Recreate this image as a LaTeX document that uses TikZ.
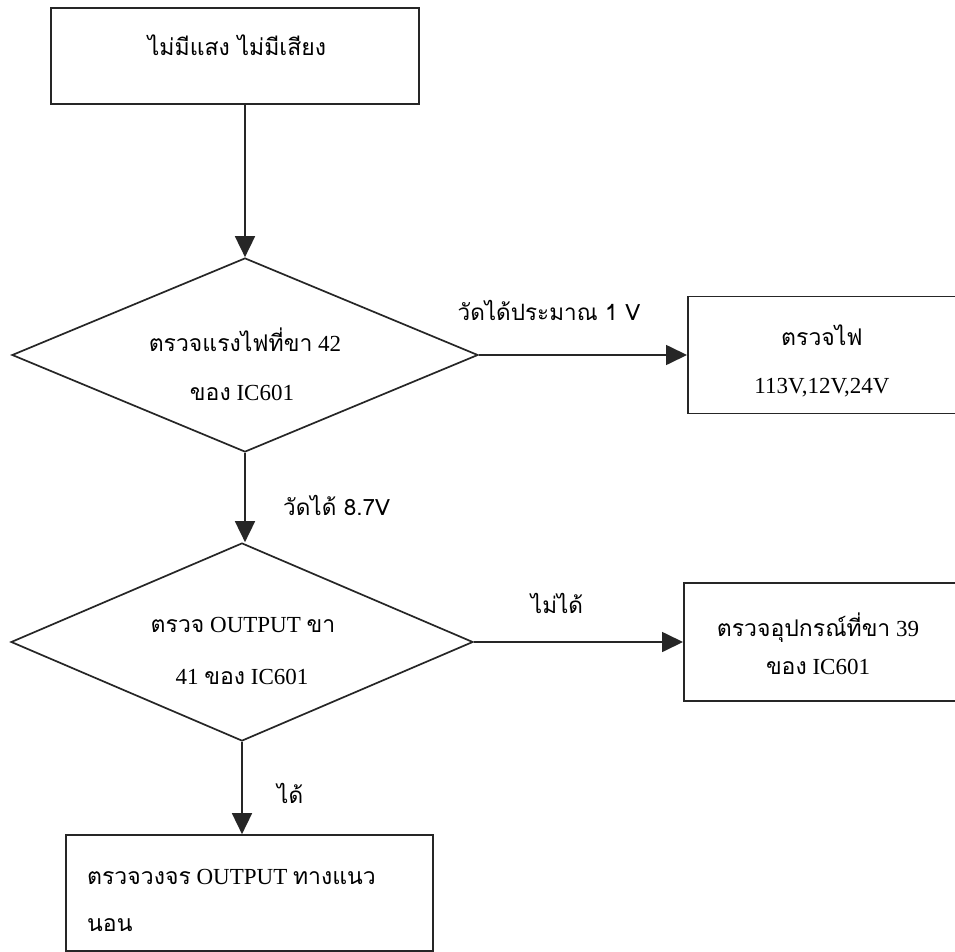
\documentclass[tikz,border=0pt]{standalone}
\usepackage{fontspec}
\setmainfont{Liberation Serif}
\newfontfamily\thaifont[Script=Thai]{Loma}
\newfontfamily\labelfont[Script=Thai]{Loma}
\usetikzlibrary{arrows.meta,shapes.geometric}
\newcommand\thw[1]{{\thaifont #1}}
\begin{document}
\begin{tikzpicture}[x=1pt,y=-1pt,
  line/.style={draw=black!85,line width=1.7pt},
  boxshape/.style={line,rectangle,inner sep=0pt},
  decision/.style={line,diamond,inner sep=0pt},
  flow/.style={line,-{Triangle[length=21pt,width=20pt]}},
  txt/.style={font=\fontsize{23}{26}\selectfont,inner sep=0pt},
  lbl/.style={font=\labelfont\fontsize{22.5}{26}\selectfont,inner sep=0pt}]
\useasboundingbox (0,0) rectangle (955,952);
\fill[white] (0,0) rectangle (955,952);

% shapes
\node[boxshape,minimum width=368pt,minimum height=96pt] (start) at (235,56) {};
\node[decision,minimum width=466pt,minimum height=194pt] (d1) at (245,355) {};
\node[boxshape,minimum width=300pt,minimum height=117pt,anchor=west] (b2) at (687,355) {};
\node[decision,minimum width=462pt,minimum height=198pt] (d2) at (242,642) {};
\node[boxshape,minimum width=300pt,minimum height=118pt,anchor=west] (b3) at (683,642) {};
\node[boxshape,minimum width=367pt,minimum height=116pt] (b4) at (249.5,893) {};

% texts
\node[txt] (t0) at (237,45) {\thw{ไม่มีแสง ไม่มีเสียง}};
\node[txt] (t1a) at (245,340) {\thw{ตรวจแรงไฟที่ขา} 42};
\node[txt] (t1b) at (242,393) {\thw{ของ} IC601};
\node[txt] (t2a) at (822,335) {\thw{ตรวจไฟ}};
\node[txt] (t2b) at (822,388) {113V,12V,24V};
\node[txt] (t3a) at (243,625) {\thw{ตรวจ} OUTPUT \thw{ขา}};
\node[txt] (t3b) at (242,677) {41 \thw{ของ} IC601};
\node[txt] (t4a) at (818,628) {\thw{ตรวจอุปกรณ์ที่ขา} 39};
\node[txt] (t4b) at (818,667) {\thw{ของ} IC601};
\node[txt,anchor=west] (t5a) at (87,877) {\thw{ตรวจวงจร} OUTPUT \thw{ทางแนว}};
\node[txt,anchor=west] (t5b) at (87,925) {\thw{นอน}};

% connectors
\draw[flow] (start.south -| d1.north) -- (d1.north);
\draw[flow] (d1.east) -- (b2.west);
\draw[flow] (d1.south) -- (d2.north -| d1.south);
\draw[flow] (d2.east) -- (b3.west);
\draw[flow] (d2.south) -- (b4.north -| d2.south);

% connector labels
\node[lbl] (l1) at (549,310) {วัดได้ประมาณ 1 V};
\node[lbl,anchor=west] (l2) at (283,505) {วัดได้ 8.7V};
\node[lbl] (l3) at (557,603) {ไม่ได้};
\node[lbl,anchor=west] (l4) at (277,793) {ได้};
\end{tikzpicture}
\end{document}
